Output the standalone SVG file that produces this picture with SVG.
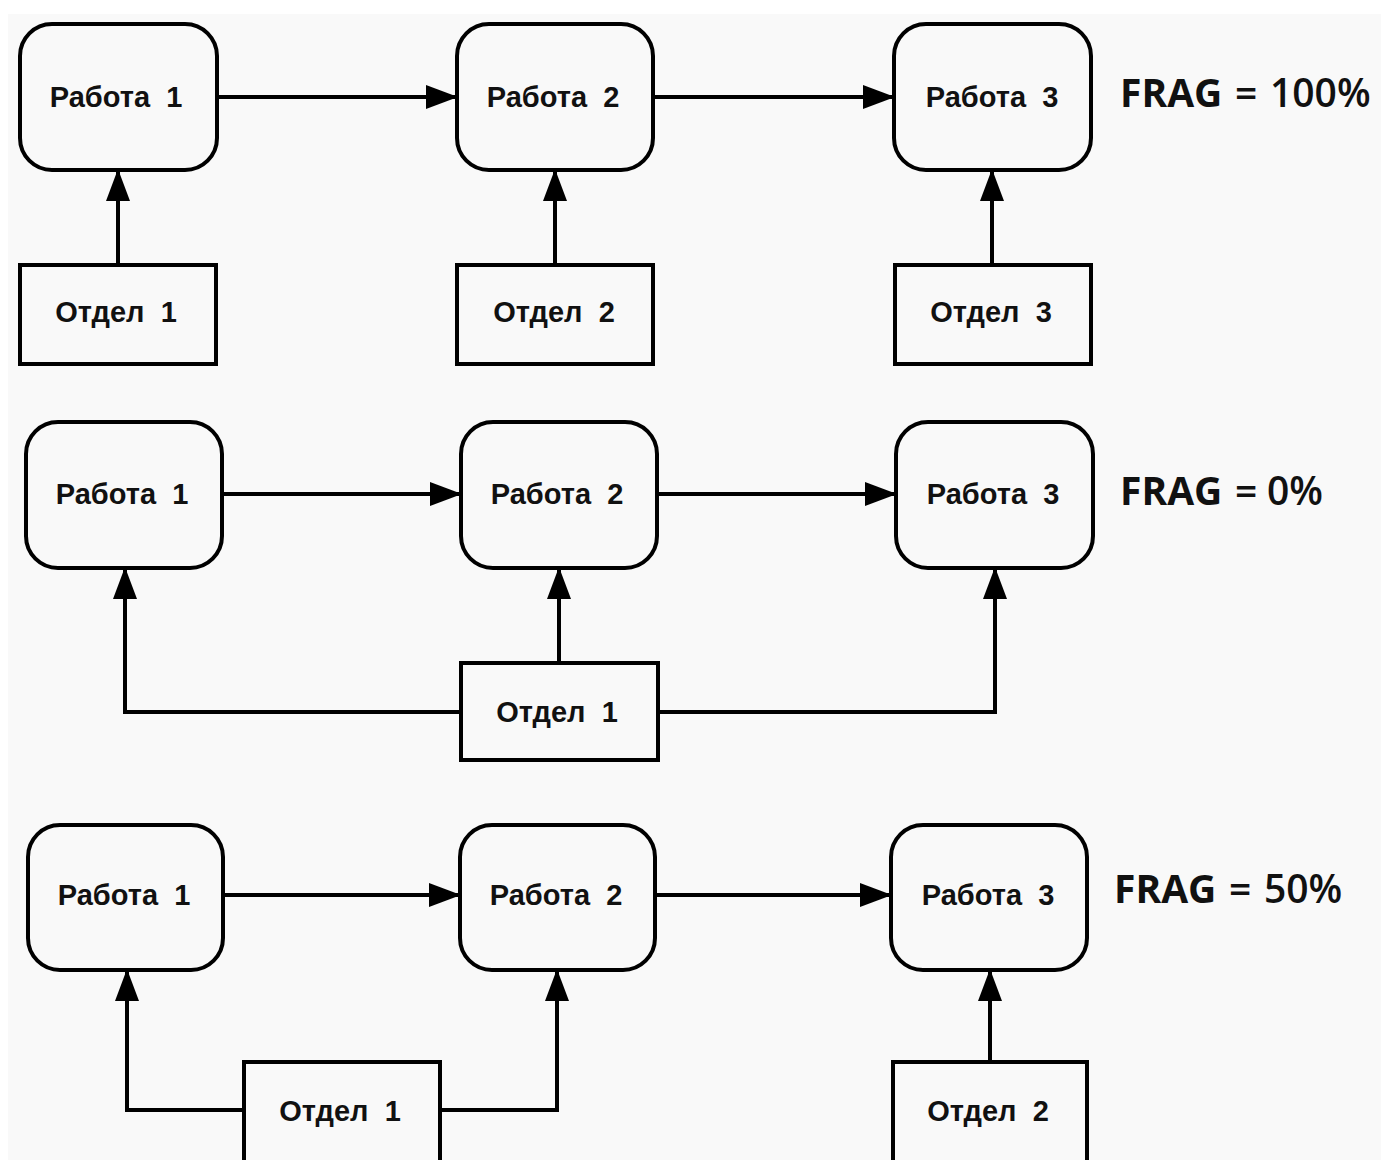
<svg xmlns="http://www.w3.org/2000/svg" width="1381" height="1160" viewBox="0 0 1381 1160">
  <style>
    .task { fill: none; stroke: #000; stroke-width: 4; }
    .dept { fill: none; stroke: #000; stroke-width: 4; }
    .lbl { font-family: "Liberation Sans", Arial, sans-serif; font-weight: bold; font-size: 29px; fill: #111; text-anchor: middle; }
    .frag { font-family: "Open Sans", Lato, sans-serif; font-size: 39px; font-weight: 600; fill: #111; }
    .frag .b { font-weight: bold; }
    .link { fill: none; stroke: #000; stroke-width: 4; }
  </style>
  <defs>
    <marker id="arr" markerUnits="userSpaceOnUse" markerWidth="32" markerHeight="24" refX="31" refY="12" orient="auto">
      <path d="M0,0 L32,12 L0,24 Z" fill="#000"/>
    </marker>
  </defs>

  <!-- page background -->
  <rect x="0" y="0" width="1381" height="1160" fill="#ffffff"/>
  <rect x="8" y="14" width="1373" height="1146" fill="#f9f9f9"/>

  <!-- connectors -->
  <g id="connectors">
    <!-- row 1 -->
    <line class="link" x1="217" y1="97" x2="457" y2="97" marker-end="url(#arr)"/>
    <line class="link" x1="653" y1="97" x2="894" y2="97" marker-end="url(#arr)"/>
    <line class="link" x1="118" y1="265" x2="118" y2="170" marker-end="url(#arr)"/>
    <line class="link" x1="555" y1="265" x2="555" y2="170" marker-end="url(#arr)"/>
    <line class="link" x1="992" y1="265" x2="992" y2="170" marker-end="url(#arr)"/>
    <!-- row 2 -->
    <line class="link" x1="222" y1="494" x2="461" y2="494" marker-end="url(#arr)"/>
    <line class="link" x1="657" y1="494" x2="896" y2="494" marker-end="url(#arr)"/>
    <line class="link" x1="559" y1="663" x2="559" y2="568" marker-end="url(#arr)"/>
    <polyline class="link" points="461,712 125,712 125,568" marker-end="url(#arr)"/>
    <polyline class="link" points="658,712 995,712 995,568" marker-end="url(#arr)"/>
    <!-- row 3 -->
    <line class="link" x1="223" y1="895" x2="460" y2="895" marker-end="url(#arr)"/>
    <line class="link" x1="655" y1="895" x2="891" y2="895" marker-end="url(#arr)"/>
    <polyline class="link" points="244,1110 127,1110 127,970" marker-end="url(#arr)"/>
    <polyline class="link" points="440,1110 557,1110 557,970" marker-end="url(#arr)"/>
    <line class="link" x1="990" y1="1062" x2="990" y2="970" marker-end="url(#arr)"/>
  </g>

  <!-- row 1: FRAG = 100% -->
  <g id="r1-task1"><rect class="task" x="20" y="24" width="197" height="146" rx="32"/><text class="lbl" x="116" y="107">Работа&#160; 1</text></g>
  <g id="r1-task2"><rect class="task" x="457" y="24" width="196" height="146" rx="32"/><text class="lbl" x="553" y="107">Работа&#160; 2</text></g>
  <g id="r1-task3"><rect class="task" x="894" y="24" width="197" height="146" rx="32"/><text class="lbl" x="992" y="107">Работа&#160; 3</text></g>
  <g id="r1-dept1"><rect class="dept" x="20" y="265" width="196" height="99"/><text class="lbl" x="116" y="322">Отдел&#160; 1</text></g>
  <g id="r1-dept2"><rect class="dept" x="457" y="265" width="196" height="99"/><text class="lbl" x="554" y="322">Отдел&#160; 2</text></g>
  <g id="r1-dept3"><rect class="dept" x="895" y="265" width="196" height="99"/><text class="lbl" x="991" y="322">Отдел&#160; 3</text></g>
  <g id="r1-frag"><text class="frag" y="107"><tspan class="b" x="1120">FRAG</tspan><tspan x="1235">=</tspan><tspan x="1270">100%</tspan></text></g>

  <!-- row 2: FRAG = 0% -->
  <g id="r2-task1"><rect class="task" x="26" y="422" width="196" height="146" rx="32"/><text class="lbl" x="122" y="504">Работа&#160; 1</text></g>
  <g id="r2-task2"><rect class="task" x="461" y="422" width="196" height="146" rx="32"/><text class="lbl" x="557" y="504">Работа&#160; 2</text></g>
  <g id="r2-task3"><rect class="task" x="896" y="422" width="197" height="146" rx="32"/><text class="lbl" x="993" y="504">Работа&#160; 3</text></g>
  <g id="r2-dept1"><rect class="dept" x="461" y="663" width="197" height="97"/><text class="lbl" x="557" y="722">Отдел&#160; 1</text></g>
  <g id="r2-frag"><text class="frag" y="505"><tspan class="b" x="1120">FRAG</tspan><tspan x="1235">=</tspan><tspan x="1267">0%</tspan></text></g>

  <!-- row 3: FRAG = 50% -->
  <g id="r3-task1"><rect class="task" x="28" y="825" width="195" height="145" rx="32"/><text class="lbl" x="124" y="905">Работа&#160; 1</text></g>
  <g id="r3-task2"><rect class="task" x="460" y="825" width="195" height="145" rx="32"/><text class="lbl" x="556" y="905">Работа&#160; 2</text></g>
  <g id="r3-task3"><rect class="task" x="891" y="825" width="196" height="145" rx="32"/><text class="lbl" x="988" y="905">Работа&#160; 3</text></g>
  <g id="r3-dept1"><rect class="dept" x="244" y="1062" width="196" height="100"/><text class="lbl" x="340" y="1121">Отдел&#160; 1</text></g>
  <g id="r3-dept2"><rect class="dept" x="893" y="1062" width="194" height="100"/><text class="lbl" x="988" y="1121">Отдел&#160; 2</text></g>
  <g id="r3-frag"><text class="frag" y="903"><tspan class="b" x="1114">FRAG</tspan><tspan x="1229">=</tspan><tspan x="1264">50%</tspan></text></g>
</svg>
